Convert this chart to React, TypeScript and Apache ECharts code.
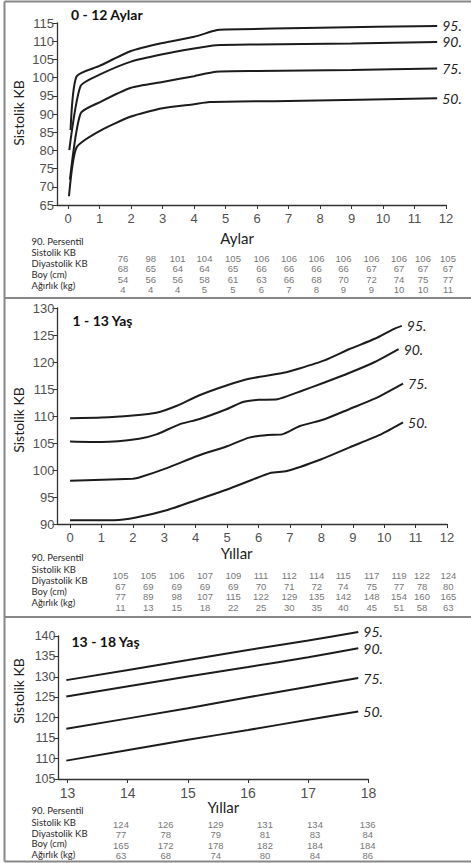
import React, { useEffect, useRef } from 'react';
import * as echarts from 'echarts';

// ---------- data ----------
const monthTicks = [0, 1, 2, 3, 4, 5, 6, 7, 8, 9, 10, 11, 12];
const childTicks = [0, 1, 2, 3, 4, 5, 6, 7, 8, 9, 10, 11, 12];
const teenTicks = [13, 14, 15, 16, 17, 18];

// 0 - 12 months (x = month, y = systolic)
const m95 = [[0.08, 85.6], [0.27, 100.3], [1, 103.2], [2, 107.3], [3, 109.5], [4, 111.2], [4.7, 113.0], [5, 113.2], [8, 113.7], [11.72, 114.2]];
const m90 = [[0.04, 80.1], [0.4, 97.7], [1, 100.8], [2, 104.4], [3, 106.4], [4, 108.0], [4.7, 108.9], [6, 109.1], [9, 109.4], [11.72, 109.8]];
const m75 = [[0.06, 72.0], [0.4, 90.2], [1, 93.2], [2, 97.2], [3, 98.8], [4, 100.4], [4.7, 101.6], [6, 101.8], [9, 102.1], [11.72, 102.5]];
const m50 = [[0.03, 67.4], [0.27, 80.8], [1, 85.3], [2, 89.3], [3, 91.6], [4, 92.7], [4.5, 93.3], [7, 93.6], [11.72, 94.3]];

// 1 - 13 years
const c95 = [[0, 109.6], [1, 109.7], [2, 110.1], [2.75, 110.6], [3.4, 111.9], [4.1, 113.8], [5, 115.7], [5.7, 116.9], [6.8, 118.0], [7.3, 118.8], [8.1, 120.3], [8.9, 122.4], [9.7, 124.3], [10.3, 126.1], [10.56, 126.7]];
const c90 = [[0, 105.3], [1, 105.2], [2.2, 105.8], [2.75, 106.6], [3.5, 108.5], [4.1, 109.4], [5, 111.3], [5.5, 112.6], [6, 113.0], [6.6, 113.1], [7.3, 114.5], [8.1, 116.2], [8.9, 118.0], [9.7, 120.0], [10.46, 122.4]];
const c75 = [[0, 98.0], [2, 98.4], [2.2, 98.6], [3.1, 100.4], [4.05, 102.6], [5, 104.4], [5.7, 106.0], [6.3, 106.5], [6.75, 106.6], [7.3, 108.1], [8.1, 109.4], [8.9, 111.3], [9.7, 113.2], [10.6, 116.0]];
const c50 = [[0, 90.7], [1.4, 90.7], [2.1, 91.2], [3.1, 92.6], [4.05, 94.5], [5, 96.4], [5.8, 98.2], [6.4, 99.5], [6.9, 99.8], [8, 102.0], [8.9, 104.2], [9.9, 106.6], [10.6, 108.8]];

// 13 - 18 years
const t95 = [[12.98, 129.2], [15, 134.1], [16, 136.6], [17, 138.9], [17.83, 141.0]];
const t90 = [[12.98, 125.2], [15, 130.1], [16, 132.4], [17, 134.8], [17.83, 137.0]];
const t75 = [[12.98, 117.3], [15, 122.3], [16, 125.0], [17, 127.6], [17.83, 129.7]];
const t50 = [[12.98, 109.5], [15, 114.6], [16, 117.0], [17, 119.5], [17.83, 121.5]];

// 90th percentile tables
const rowLabels = ['90. Persentil', 'Sistolik KB', 'Diyastolik KB', 'Boy (cm)', 'Ağırlık (kg)'];
const monthSys = [76, 98, 101, 104, 105, 106, 106, 106, 106, 106, 106, 106, 105];
const monthDia = [68, 65, 64, 64, 65, 66, 66, 66, 66, 67, 67, 67, 67];
const monthBoy = [54, 56, 56, 58, 61, 63, 66, 68, 70, 72, 74, 75, 77];
const monthKg = [4, 4, 4, 5, 5, 6, 7, 8, 9, 9, 10, 10, 11];
const childSys = [105, 105, 106, 107, 109, 111, 112, 114, 115, 117, 119, 122, 124];
const childDia = [67, 69, 69, 69, 69, 70, 71, 72, 74, 75, 77, 78, 80];
const childBoy = [77, 89, 98, 107, 115, 122, 129, 135, 142, 148, 154, 160, 165];
const childKg = [11, 13, 15, 18, 22, 25, 30, 35, 40, 45, 51, 58, 63];
const teenSys = [124, 126, 129, 131, 134, 136];
const teenDia = [77, 78, 79, 81, 83, 84];
const teenBoy = [165, 172, 178, 182, 184, 184];
const teenKg = [63, 68, 74, 80, 84, 86];

// ---------- layout ----------
const colsA = [123, 150.7, 177.7, 204.5, 233, 261.5, 289, 316.5, 343.5, 371.5, 399, 423, 448];
const colsB = [120.5, 148.3, 176.7, 205, 233.3, 261, 289.3, 316.7, 343.3, 371.7, 399, 422, 448.3];
const colsC = [121, 165.7, 215.7, 265, 315, 367.7];

const LINE = '#1c1c1c';
const TICK = '#505050';
const LATO = 'Lato, "Open Sans", sans-serif';
const ARIAL = '"Liberation Sans", Arial, sans-serif';

function xAx(gridIndex: number, min: number, max: number, ticks: number[], fontSize: number) {
  return {
    type: 'value', gridIndex, min, max,
    axisLine: { show: true, onZero: false, lineStyle: { color: '#333', width: 1.3 } },
    axisTick: { show: true, customValues: ticks, length: 4, lineStyle: { color: '#333', width: 1 } },
    axisLabel: { show: true, customValues: ticks, fontSize, color: TICK, margin: 7, fontFamily: ARIAL },
    splitLine: { show: false },
  };
}
function yAx(gridIndex: number, min: number, max: number, fontSize: number) {
  return {
    type: 'value', gridIndex, min, max, interval: 5,
    axisLine: { show: true, onZero: false, lineStyle: { color: '#333', width: 1.3 } },
    axisTick: { show: true, length: 5, lineStyle: { color: '#333', width: 1 } },
    axisLabel: { show: true, fontSize, color: TICK, margin: 3, fontFamily: ARIAL },
    splitLine: { show: false },
  };
}
function ser(idx: number, data: number[][], label: string) {
  return {
    type: 'line', xAxisIndex: idx, yAxisIndex: idx, data,
    symbol: 'none', showSymbol: false, smooth: 0.2, clip: false, silent: true,
    lineStyle: { color: LINE, width: 2 },
    endLabel: { show: true, formatter: label, distance: 5, fontSize: 14, fontStyle: 'italic', color: '#222', fontFamily: LATO },
  };
}
function txt(x: number, y: number, text: string, font: string, fill: string, align = 'left', rotation = 0) {
  return { type: 'text', x, y, rotation, silent: true, style: { text, font, fill, align, verticalAlign: 'middle' } };
}
function hline(x1: number, y1: number, x2: number, y2: number) {
  return { type: 'line', silent: true, shape: { x1, y1, x2, y2 }, style: { stroke: '#888', lineWidth: 2 } };
}
function table(rows: number[][], cols: number[], rowY: number[], labelY: number[]) {
  const out: any[] = [];
  rowLabels.forEach((l, i) => out.push(txt(31.5, labelY[i], l, `9.5px ${LATO}`, '#2a2a2a')));
  rows.forEach((r, ri) => r.forEach((v, ci) => out.push(txt(cols[ci], rowY[ri], String(v), `9.5px ${ARIAL}`, '#777', 'center'))));
  return out;
}

const graphics: any[] = [
  hline(4.5, 1.5, 471, 1.5),
  hline(4.5, 1.5, 4.5, 861.5),
  hline(4.5, 861.5, 471, 861.5),
  hline(4.5, 298, 471, 298),
  hline(4.5, 617, 471, 617),
  txt(71, 14, '0 - 12 Aylar', `bold 14px ${LATO}`, '#111'),
  txt(72.5, 320, '1 - 13 Yaş', `bold 14px ${LATO}`, '#111'),
  txt(71.5, 641.7, '13 - 18 Yaş', `bold 14px ${LATO}`, '#111'),
  txt(18, 113, 'Sistolik KB', `14px ${LATO}`, '#222', 'center', Math.PI / 2),
  txt(18, 420, 'Sistolik KB', `14px ${LATO}`, '#222', 'center', Math.PI / 2),
  txt(18, 691, 'Sistolik KB', `14px ${LATO}`, '#222', 'center', Math.PI / 2),
  txt(237, 238, 'Aylar', `15px ${LATO}`, '#222', 'center'),
  txt(236.7, 553.3, 'Yıllar', `15px ${LATO}`, '#222', 'center'),
  txt(223.3, 806.7, 'Yıllar', `15px ${LATO}`, '#222', 'center'),
  ...table([monthSys, monthDia, monthBoy, monthKg], colsA, [258.3, 268.3, 279, 289], [241.7, 252.7, 263.3, 274.3, 285.7]),
  ...table([childSys, childDia, childBoy, childKg], colsB, [575, 586, 596.7, 607.7], [557.3, 569, 580, 591.5, 602.5]),
  ...table([teenSys, teenDia, teenBoy, teenKg], colsC, [824.3, 834.3, 845, 855.7], [810.7, 822, 833.3, 843.8, 854.6]),
];

const option: any = {
  animation: false,
  backgroundColor: '#fff',
  grid: [
    { left: 57, top: 23, width: 389, height: 182 },
    { left: 57.5, top: 308, width: 389.5, height: 216 },
    { left: 58.5, top: 636, width: 310, height: 143 },
  ],
  xAxis: [
    xAx(0, -0.35, 12, monthTicks, 13),
    xAx(1, -0.4, 12, childTicks, 13),
    xAx(2, 12.85, 18, teenTicks, 14),
  ],
  yAxis: [yAx(0, 65, 115, 13), yAx(1, 90, 130, 13), yAx(2, 105, 140, 12.5)],
  series: [
    ser(0, m95, '95.'), ser(0, m90, '90.'), ser(0, m75, '75.'), ser(0, m50, '50.'),
    ser(1, c95, '95.'), ser(1, c90, '90.'), ser(1, c75, '75.'), ser(1, c50, '50.'),
    ser(2, t95, '95.'), ser(2, t90, '90.'), ser(2, t75, '75.'), ser(2, t50, '50.'),
  ],
  graphic: { elements: graphics },
};

export default function App() {
  const ref = useRef<HTMLDivElement>(null);
  useEffect(() => {
    const chart = echarts.init(ref.current!, null, { renderer: 'svg' });
    chart.setOption(option);
    return () => chart.dispose();
  }, []);
  return <div ref={ref} style={{ position: 'absolute', left: 0, top: 0, width: 471, height: 863, background: '#fff' }} />;
}
